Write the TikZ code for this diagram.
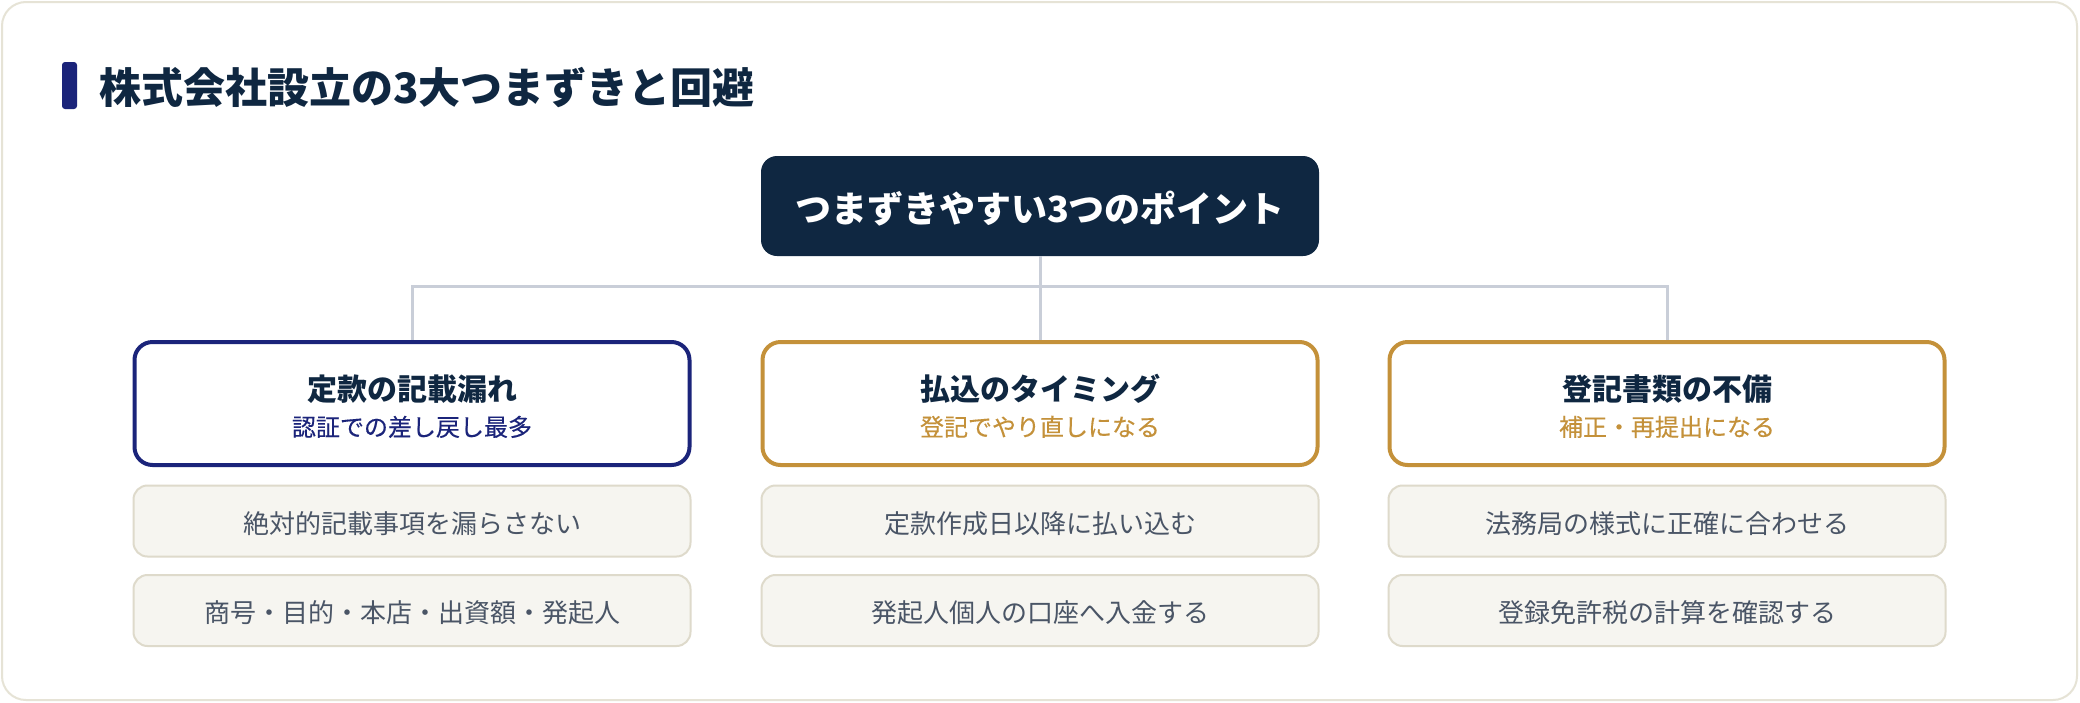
\documentclass[tikz,border=0pt]{standalone}
\usepackage{fontspec}
\newfontfamily\jp{Noto Sans CJK JP}
\newfontfamily\jpmed[FakeBold=0.35]{Noto Sans CJK JP}
\definecolor{navydark}{HTML}{0F2741}
\definecolor{navy}{HTML}{1B247A}
\definecolor{gold}{HTML}{C4913A}
\definecolor{connc}{HTML}{C9CED8}
\definecolor{itemfill}{HTML}{F6F5F0}
\definecolor{itemborder}{HTML}{DEDACB}
\definecolor{itemtext}{HTML}{4A5566}
\definecolor{framec}{HTML}{E6E3D6}
\begin{document}
\begin{tikzpicture}[x=0.5pt,y=-0.5pt,
  frame/.style={draw=framec, line width=1pt, rounded corners=12pt, fill=white},
  topbox/.style={fill=navydark, rounded corners=8pt, minimum width=279pt, minimum height=50pt, inner sep=0pt},
  pointbox/.style={draw=#1, line width=2pt, fill=white, rounded corners=9pt, minimum width=277.5pt, minimum height=61.5pt, inner sep=0pt},
  itembox/.style={draw=itemborder, line width=1pt, fill=itemfill, rounded corners=7pt, minimum width=278.5pt, minimum height=35.5pt, inner sep=0pt},
  conn/.style={draw=connc, line width=1.5pt},
  ttl/.style={anchor=base, font=\jp\bfseries\fontsize{15pt}{18pt}\selectfont, text=navydark, inner sep=0pt},
  sub/.style={anchor=base, font=\jpmed\fontsize{12pt}{14pt}\selectfont, text=#1, inner sep=0pt},
  itemtxt/.style={anchor=base, font=\jp\fontsize{13pt}{16pt}\selectfont, text=itemtext, inner sep=0pt}
]
\useasboundingbox (0,0) rectangle (2080,702);
\fill[white] (0,0) rectangle (2080,702);
\draw[frame] (2,2) rectangle (2077,700);

% heading
\fill[navy, rounded corners=1.5pt] (62,62) rectangle (77,109);
\node[anchor=base west, inner sep=0pt, font=\jp\bfseries\fontsize{21pt}{25pt}\selectfont, text=navydark] (heading) at (99,103.5) {株式会社設立の3大つまずきと回避};

% top node
\node[topbox] (top) at (1040,206) {};
\node[anchor=base, inner sep=0pt, font=\jp\bfseries\fontsize{18pt}{22pt}\selectfont, text=white] (toptxt) at (1040,222) {つまずきやすい3つのポイント};

% point boxes
\node[pointbox=navy] (p1) at (412,403.5) {};
\node[pointbox=gold] (p2) at (1040,403.5) {};
\node[pointbox=gold] (p3) at (1667,403.5) {};

% connectors
\coordinate (hub) at (1040,286);
\draw[conn] (top.south) -- (hub);
\draw[conn] (hub) -| (p1.north);
\draw[conn] (hub) -| (p3.north);
\draw[conn] (hub) -- (p2.north);

% point box texts
\node[ttl] (t1) at (412,400.5) {定款の記載漏れ};
\node[sub=navy] (s1) at (412,436) {認証での差し戻し最多};
\node[ttl] (t2) at (1040,400.5) {払込のタイミング};
\node[sub=gold] (s2) at (1040,436) {登記でやり直しになる};
\node[ttl] (t3) at (1667,400.5) {登記書類の不備};
\node[sub=gold] (s3) at (1667,436) {補正・再提出になる};

% items
\node[itembox] (a1) at (412,521) {};
\node[itembox] (a2) at (412,610.5) {};
\node[itembox] (b1) at (1040,521) {};
\node[itembox] (b2) at (1040,610.5) {};
\node[itembox] (c1) at (1667,521) {};
\node[itembox] (c2) at (1667,610.5) {};
\node[itemtxt] (a1t) at (412,533) {絶対的記載事項を漏らさない};
\node[itemtxt] (a2t) at (412,622) {商号・目的・本店・出資額・発起人};
\node[itemtxt] (b1t) at (1040,533) {定款作成日以降に払い込む};
\node[itemtxt] (b2t) at (1040,622) {発起人個人の口座へ入金する};
\node[itemtxt] (c1t) at (1667,533) {法務局の様式に正確に合わせる};
\node[itemtxt] (c2t) at (1667,622) {登録免許税の計算を確認する};
\end{tikzpicture}
\end{document}
